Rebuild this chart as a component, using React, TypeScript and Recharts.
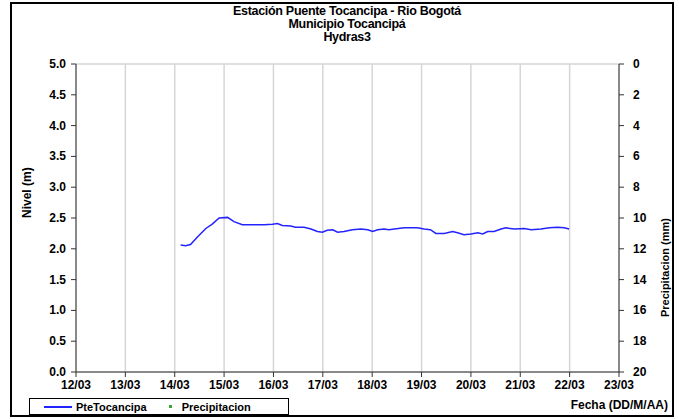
import { ComposedChart, Line, Scatter, XAxis, YAxis, CartesianGrid } from "recharts"

// fractional day of March
const dias = [
  14.12, 14.22, 14.32, 14.46, 14.63, 14.76, 14.9, 15.07, 15.2, 15.37, 15.57, 15.81, 15.98, 16.08, 16.18,
  16.35, 16.45, 16.62, 16.76, 16.89, 16.99, 17.09, 17.2, 17.3, 17.43, 17.6, 17.77, 17.91, 18.01, 18.11,
  18.24, 18.34, 18.45, 18.65, 18.82, 18.92, 19.05, 19.18, 19.29, 19.46, 19.63, 19.73, 19.86, 20.0, 20.14,
  20.24, 20.34, 20.47, 20.61, 20.71, 20.88, 21.08, 21.22, 21.42, 21.59, 21.76, 21.89, 21.99,
]
const nivel = [
  2.06, 2.05, 2.07, 2.19, 2.33, 2.4, 2.5, 2.51, 2.44, 2.39, 2.39, 2.39, 2.4, 2.41, 2.38,
  2.37, 2.35, 2.35, 2.32, 2.28, 2.27, 2.3, 2.31, 2.27, 2.28, 2.31, 2.32, 2.31, 2.28, 2.31,
  2.32, 2.31, 2.32, 2.34, 2.34, 2.34, 2.32, 2.31, 2.25, 2.25, 2.28, 2.26, 2.23, 2.24, 2.26,
  2.24, 2.28, 2.28, 2.32, 2.34, 2.32, 2.33, 2.31, 2.32, 2.34, 2.35, 2.34, 2.32,
]
// no rain recorded in this period
const precipitacion: { dia: number; mm: number }[] = []

const diasTicks = [12, 13, 14, 15, 16, 17, 18, 19, 20, 21, 22, 23]
const nivelTicks = [0, 0.5, 1, 1.5, 2, 2.5, 3, 3.5, 4, 4.5, 5]
const lluviaTicks = [0, 2, 4, 6, 8, 10, 12, 14, 16, 18, 20]
const titulo = ["Estación Puente Tocancipa - Rio Bogotá", "Municipio Tocancipá", "Hydras3"]

const data = dias.map((d, i) => ({ dia: d, nivel: nivel[i] }))

const font = "'Liberation Sans', Arial, sans-serif"
const bold = { fontFamily: font, fontWeight: 700, fill: "#000" }

function TickX(props: any) {
  const { x, y, payload } = props
  return (
    <text x={x} y={y + 10} textAnchor="middle" fontSize={12} {...bold}>
      {`${payload.value}/03`}
    </text>
  )
}

function TickLeft(props: any) {
  const { x, y, payload } = props
  return (
    <text x={x - 3} y={y + 4} textAnchor="end" fontSize={12} {...bold}>
      {Number(payload.value).toFixed(1)}
    </text>
  )
}

function TickRight(props: any) {
  const { x, y, payload } = props
  return (
    <text x={x + 7} y={y + 4} textAnchor="start" fontSize={12} {...bold}>
      {payload.value}
    </text>
  )
}

function LegendBox() {
  return (
    <div
      style={{
        position: "absolute",
        left: 29,
        top: 398,
        width: 258,
        height: 15,
        border: "1px solid #000",
        display: "flex",
        alignItems: "center",
        fontFamily: font,
        fontSize: 11,
        fontWeight: 700,
      }}
    >
      <span style={{ width: 28, height: 0, borderTop: "2px solid #2323ff", marginLeft: 14, marginRight: 4 }} />
      <span>PteTocancipa</span>
      <span style={{ width: 3, height: 3, background: "#33aa33", marginLeft: 22, marginRight: 10 }} />
      <span>Precipitacion</span>
    </div>
  )
}

export default function App() {
  return (
    <div style={{ position: "absolute", left: 0, top: 0, width: 679, height: 419, background: "#fff" }}>
      <div
        style={{
          position: "absolute",
          left: 10,
          top: 2,
          width: 660,
          height: 411,
          border: "2.5px solid #000",
        }}
      />
      <div
        style={{
          position: "absolute",
          left: 147,
          top: 5,
          width: 400,
          textAlign: "center",
          fontFamily: font,
          fontSize: 12.5,
          fontWeight: 700,
          lineHeight: "13px",
          letterSpacing: -0.3,
        }}
      >
        {titulo.map((t) => (
          <div key={t}>{t}</div>
        ))}
      </div>
      <ComposedChart
        width={679}
        height={419}
        data={data}
        margin={{ top: 64, right: 0, bottom: 17, left: 0 }}
        style={{ position: "absolute", left: 0, top: 0 }}
      >
        <CartesianGrid stroke="#d6d6d6" strokeWidth={1.5} />
        <XAxis
          dataKey="dia"
          type="number"
          domain={[12, 23]}
          ticks={diasTicks}
          tick={<TickX />}
          tickSize={5}
          height={30}
          stroke="#333"
        />
        <YAxis
          yAxisId="nivel"
          domain={[0, 5]}
          ticks={nivelTicks}
          tick={<TickLeft />}
          tickSize={5}
          width={76}
          stroke="#333"
          label={{ value: "Nivel (m)", angle: -90, position: "insideLeft", dx: 22, fill: "#000", fontSize: 12, fontWeight: 700, fontFamily: font }}
        />
        <YAxis
          yAxisId="lluvia"
          orientation="right"
          reversed
          allowDataOverflow
          domain={[0, 20]}
          ticks={lluviaTicks}
          tick={<TickRight />}
          tickSize={5}
          width={60}
          stroke="#333"
          label={{ value: "Precipitacion (mm)", angle: -90, position: "insideRight", dx: -9, fill: "#000", fontSize: 11, fontWeight: 700, fontFamily: font }}
        />
        <Line
          yAxisId="nivel"
          dataKey="nivel"
          type="linear"
          stroke="#2323ff"
          strokeWidth={1.5}
          dot={false}
          isAnimationActive={false}
        />
        <Scatter yAxisId="lluvia" data={precipitacion} dataKey="mm" fill="#33aa33" isAnimationActive={false} />
      </ComposedChart>
      <LegendBox />
      <div
        style={{
          position: "absolute",
          right: 11,
          top: 398,
          fontFamily: font,
          fontSize: 12,
          fontWeight: 700,
        }}
      >
        Fecha (DD/M/AA)
      </div>
    </div>
  )
}
